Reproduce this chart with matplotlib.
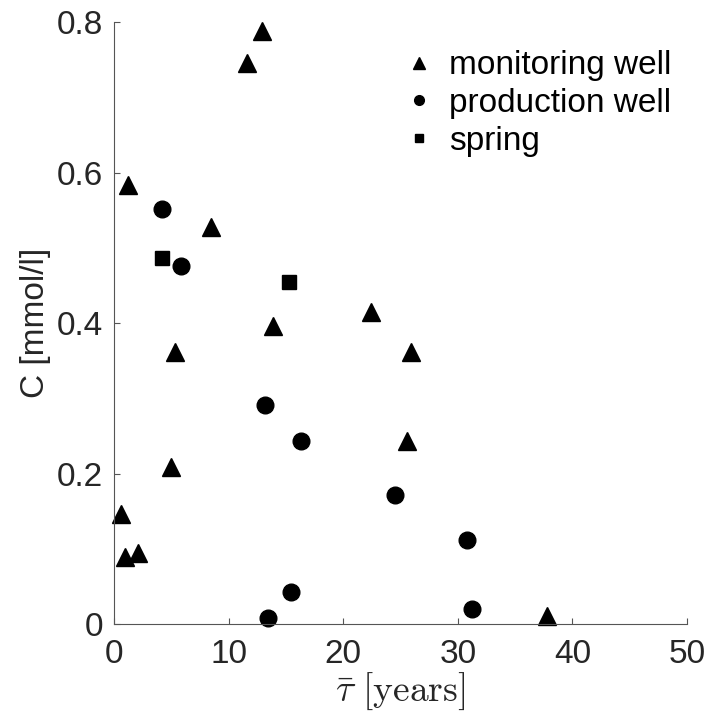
import matplotlib
matplotlib.use("Agg")
import matplotlib.pyplot as plt
from matplotlib.lines import Line2D

plt.rcParams['font.family'] = ['Liberation Sans', 'DejaVu Sans']
plt.rcParams['mathtext.fontset'] = 'cm'

# mean residence time [years] and concentration [mmol/l]
mon_tau = [12.9, 11.6, 1.25, 8.45, 13.9, 5.3, 4.95, 22.4, 25.95, 25.55, 37.8, 0.6, 1.0, 2.05]
mon_c = [0.788, 0.745, 0.583, 0.528, 0.396, 0.361, 0.209, 0.414, 0.361, 0.243, 0.010, 0.146, 0.089, 0.095]

prod_tau = [4.15, 5.85, 13.15, 16.35, 24.55, 30.8, 31.25, 15.45, 13.4]
prod_c = [0.552, 0.476, 0.291, 0.243, 0.171, 0.112, 0.020, 0.043, 0.008]

spring_tau = [4.15, 15.3]
spring_c = [0.487, 0.455]

labels = ['monitoring well', 'production well', 'spring']
xticks = [0, 10, 20, 30, 40, 50]
yticks = [0, 0.2, 0.4, 0.6, 0.8]

fig = plt.figure(figsize=(7.1, 7.2), dpi=100)
ax = fig.add_axes([0.1606, 0.1333, 0.8070, 0.8361])

ax.plot(mon_tau, mon_c, '^', color='black', ms=13, clip_on=False)
ax.plot(prod_tau, prod_c, 'o', color='black', ms=12, clip_on=False)
ax.plot(spring_tau, spring_c, 's', color='black', ms=9.5, clip_on=False)

ax.set_xlim(0, 50)
ax.set_ylim(0, 0.8)
ax.set_xticks(xticks)
ax.set_yticks(yticks)
ax.set_xticklabels([str(t) for t in xticks])
ax.set_yticklabels(['0' if t == 0 else f'{t:.1f}' for t in yticks])

for s in ['top', 'right']:
    ax.spines[s].set_visible(False)
for s in ['left', 'bottom']:
    ax.spines[s].set_color('#555555')
    ax.spines[s].set_linewidth(0.8)
ax.tick_params(axis='both', direction='in', length=4, width=0.8, color='#555555',
               labelsize=24, labelcolor='#262626')
ax.tick_params(axis='x', pad=11)
ax.tick_params(axis='y', pad=8)

ax.set_xlabel(r'$\bar{\tau}\ [\mathrm{years}]$', fontsize=27, color='#262626', labelpad=0)
ax.set_ylabel('C [mmol/l]', fontsize=24, color='#262626', labelpad=4)

handles = [Line2D([], [], marker='^', ls='none', color='black', ms=8),
           Line2D([], [], marker='o', ls='none', color='black', ms=7),
           Line2D([], [], marker='s', ls='none', color='black', ms=6)]
ax.legend(handles, labels, loc='upper left', bbox_to_anchor=(0.504, 0.953),
          frameon=False, fontsize=24, handlelength=1, handletextpad=0.4,
          labelspacing=0.2, borderpad=0, borderaxespad=0)

fig.savefig('out.png', dpi=100)
